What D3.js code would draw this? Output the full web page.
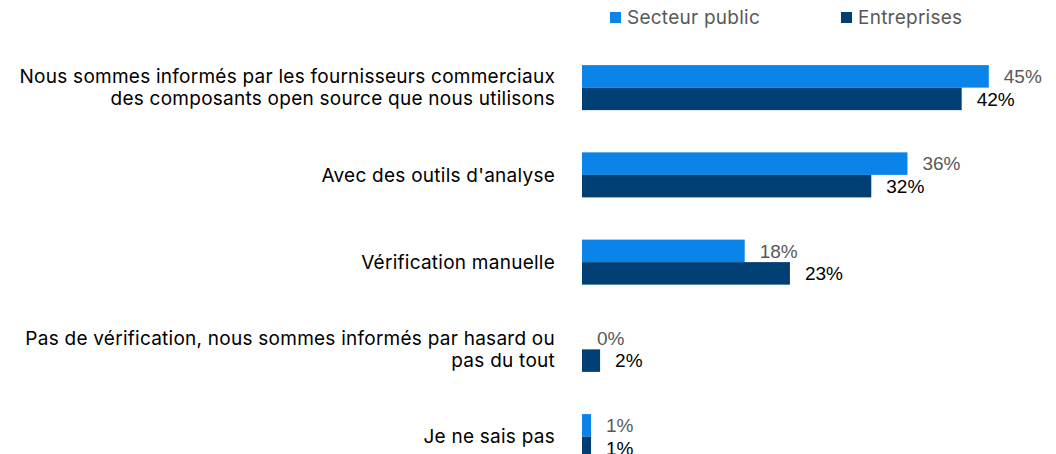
<!DOCTYPE html>
<html>
<head>
<meta charset="utf-8">
<script src="https://cdn.jsdelivr.net/npm/d3@7"></script>
<style>
  html, body { margin: 0; padding: 0; background: #fff; }
  svg { display: block; font-family: Inter, "Open Sans", sans-serif; }
</style>
</head>
<body>
<svg id="chart" width="1056" height="454"></svg>
<script>
const categories = [
  ["Nous sommes informés par les fournisseurs commerciaux", "des composants open source que nous utilisons"],
  ["Avec des outils d'analyse"],
  ["Vérification manuelle"],
  ["Pas de vérification, nous sommes informés par hasard ou", "pas du tout"],
  ["Je ne sais pas"]
];
const seriesNames = ["Secteur public", "Entreprises"];
const secteurPublic = [45, 36, 18, 0, 1];
const entreprises = [42, 32, 23, 2, 1];
const colors = ["#0A84E8", "#003F73"];
const labelColors = ["#595959", "#000000"];

const svg = d3.select("#chart");
const x = d3.scaleLinear().domain([0, 50]).range([582, 582 + 452]);
const y = d3.scaleBand().domain(d3.range(categories.length))
  .range([44, 44 + 87.25 * 5]).paddingInner(0.484).paddingOuter(0.242);
const sub = d3.scaleBand().domain([0, 1]).range([0, y.bandwidth()]);

const values = [secteurPublic, entreprises];

// bars and their value labels
values.forEach((vals, s) => {
  svg.append("g").selectAll("rect").data(vals).join("rect")
    .attr("x", x(0))
    .attr("y", (d, i) => y(i) + sub(s))
    .attr("width", d => x(d) - x(0))
    .attr("height", sub.bandwidth())
    .attr("fill", colors[s]);
  svg.append("g").selectAll("text").data(vals).join("text")
    .attr("x", d => x(d) + 15)
    .attr("y", (d, i) => y(i) + sub(s) + sub.bandwidth() / 2)
    .attr("dy", "0.36em")
    .attr("font-family", "'Liberation Sans', Arial, sans-serif")
    .attr("font-size", 19)
    .attr("fill", labelColors[s])
    .text(d => d + "%");
});

// category labels
const lab = svg.append("g").selectAll("text").data(categories).join("text")
  .attr("text-anchor", "end")
  .attr("font-size", 19)
  .attr("letter-spacing", 0.25)
  .attr("fill", "#000");
lab.each(function(lines, i) {
  const c = y(i) + y.bandwidth() / 2;
  const lh = 22;
  const start = c - (lines.length - 1) * lh / 2;
  d3.select(this).selectAll("tspan").data(lines).join("tspan")
    .attr("x", 555)
    .attr("y", (d, j) => start + j * lh)
    .attr("dy", "0.36em")
    .text(d => d);
});

// legend
const legendX = [610, 841];
const leg = svg.append("g").selectAll("g").data(seriesNames).join("g")
  .attr("transform", (d, i) => `translate(${legendX[i]},0)`);
leg.append("rect").attr("x", 0).attr("y", 12).attr("width", 11).attr("height", 11)
  .attr("fill", (d, i) => colors[i]);
leg.append("text").attr("x", 17).attr("y", 17.5).attr("dy", "0.36em")
  .attr("font-size", 19).attr("letter-spacing", 0.25)
  .attr("fill", "#595959").text(d => d);
</script>
</body>
</html>
